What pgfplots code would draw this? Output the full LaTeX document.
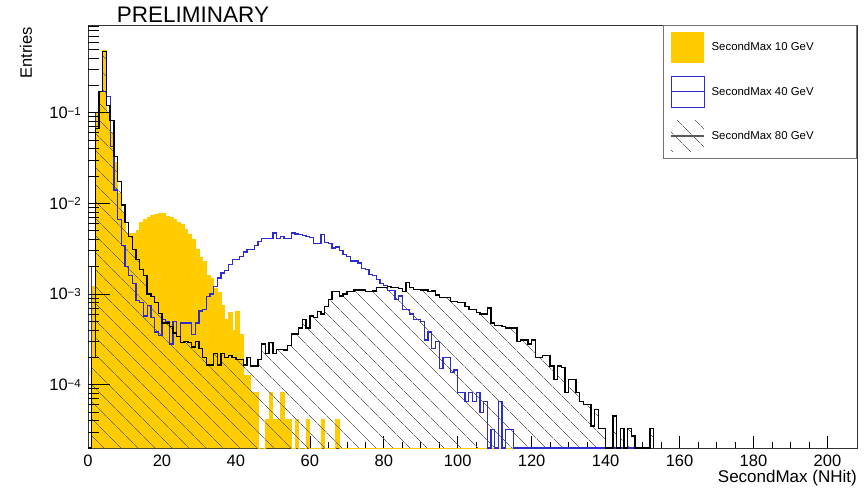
\documentclass[border=0pt]{standalone}
\usepackage{fontspec}
\setmainfont{Liberation Sans}
\usepackage{pgfplots}
\pgfplotsset{compat=1.18}
\usepackage{pgfplotstable}
\usetikzlibrary{patterns.meta}
\definecolor{rootyellow}{RGB}{255,204,0}
\definecolor{rootblue}{RGB}{45,45,205}

\pgfplotstableread{
x y
0 2e-5
1 1.2e-3
2 0.10
3 0.17
4 0.48
5 0.10
6 0.06
7 0.028
8 0.013
9 0.008
10 0.0047
11 0.0046
12 0.0047
13 0.0050
14 0.0062
15 0.0066
16 0.0070
17 0.0073
18 0.0075
19 0.0078
20 0.0078
21 0.0072
22 0.0070
23 0.0066
24 0.0062
25 0.0058
26 0.0051
27 0.0045
28 0.0040
29 0.0031
30 0.0025
31 0.0023
32 0.0016
33 0.0015
34 0.00115
35 0.00105
36 7.5e-4
37 5.2e-4
38 6.3e-4
39 4.0e-4
40 6.5e-4
41 3.6e-4
42 1.25e-4
43 1.25e-4
44 8.2e-5
45 8.2e-5
46 2e-5
47 2e-5
48 4.1e-5
49 8.2e-5
50 4.1e-5
51 4.1e-5
52 8.2e-5
53 4.1e-5
54 4.1e-5
55 2e-5
56 4.1e-5
57 2e-5
58 2e-5
59 4.1e-5
60 2e-5
63 4.1e-5
64 2e-5
67 4.1e-5
68 2e-5
115 2e-5
}\tenGeV

\pgfplotstableread{
x y
0 2e-5
1 0.002
2 0.10
3 0.17
4 0.17
5 0.15
6 0.042
7 0.014
8 0.0066
9 0.0034
10 0.0020
11 0.0016
12 0.0013
13 8.5e-4
14 8.0e-4
15 5.7e-4
16 7.5e-4
17 5.5e-4
18 3.8e-4
19 3.5e-4
20 5.2e-4
21 5.0e-4
22 2.8e-4
23 5.0e-4
24 3.4e-4
25 4.8e-4
26 4.8e-4
27 4.8e-4
28 3.6e-4
29 4.8e-4
30 6.5e-4
31 6.7e-4
32 9.4e-4
33 1.0e-3
34 1.2e-3
35 1.5e-3
36 1.7e-3
37 1.8e-3
38 2.1e-3
39 2.4e-3
40 2.4e-3
41 2.6e-3
42 2.9e-3
43 3.1e-3
44 3.1e-3
45 3.4e-3
46 3.8e-3
47 4.1e-3
48 4.1e-3
49 4.1e-3
50 4.7e-3
51 4.1e-3
52 4.3e-3
53 4.1e-3
54 4.1e-3
55 4.7e-3
56 4.6e-3
57 4.5e-3
58 4.4e-3
59 4.3e-3
60 4.2e-3
61 3.6e-3
62 3.6e-3
63 4.5e-3
64 3.7e-3
65 3.6e-3
66 3.2e-3
67 3.3e-3
68 3.0e-3
69 2.7e-3
70 2.6e-3
71 2.3e-3
72 2.3e-3
73 2.2e-3
74 1.9e-3
75 1.85e-3
76 1.63e-3
77 1.6e-3
78 1.45e-3
79 1.3e-3
80 1.25e-3
81 1.1e-3
82 1.1e-3
83 8.7e-4
84 9.5e-4
85 6.7e-4
86 6.7e-4
87 6.0e-4
88 5.2e-4
89 5.2e-4
90 5.0e-4
91 3.1e-4
92 3.8e-4
93 2.5e-4
94 3.0e-4
95 1.5e-4
96 2.0e-4
97 2.0e-4
98 1.36e-4
99 1.45e-4
100 8.2e-5
101 8.2e-5
102 6.5e-5
103 8.2e-5
104 6.5e-5
105 8.2e-5
106 4.9e-5
107 6.5e-5
108 2e-5
109 3.2e-5
110 2e-5
111 6.5e-5
112 2e-5
113 3.2e-5
114 3.2e-5
115 2e-5
152 2e-5
}\fortyGeV

\pgfplotstableread{
x y
0 2e-5
1 2e-4
2 0.067
3 0.17
4 0.47
5 0.12
6 0.082
7 0.033
8 0.0174
9 0.0096
10 0.0061
11 0.0043
12 0.0031
13 0.0024
14 0.00185
15 0.0016
16 0.0010
17 9.4e-4
18 8.0e-4
19 6.1e-4
20 4.8e-4
21 4.8e-4
22 4.4e-4
23 3.7e-4
24 3.4e-4
25 2.9e-4
26 3.0e-4
27 2.9e-4
28 2.6e-4
29 3.0e-4
30 2.5e-4
31 2.0e-4
32 1.65e-4
33 1.65e-4
34 2.2e-4
35 1.65e-4
36 2.2e-4
37 2.0e-4
38 2.1e-4
39 2.0e-4
40 1.9e-4
41 1.9e-4
42 1.65e-4
43 2.0e-4
44 1.6e-4
45 1.6e-4
46 1.9e-4
47 2.8e-4
48 2.2e-4
49 2.9e-4
50 2.2e-4
51 2.45e-4
52 2.45e-4
53 2.4e-4
54 2.7e-4
55 3.6e-4
56 3.6e-4
57 4.2e-4
58 5.2e-4
59 4.2e-4
60 5.7e-4
61 5.5e-4
62 6.4e-4
63 6.0e-4
64 7.3e-4
65 8.7e-4
66 1.06e-3
67 1.06e-3
68 9.5e-4
69 1.0e-3
70 1.06e-3
71 1.06e-3
72 1.1e-3
73 1.1e-3
74 1.1e-3
75 1.06e-3
76 1.06e-3
77 1.08e-3
78 1.18e-3
79 1.18e-3
80 1.18e-3
81 1.2e-3
82 1.18e-3
83 1.18e-3
84 1.15e-3
85 1.06e-3
86 1.33e-3
87 1.18e-3
88 1.12e-3
89 1.12e-3
90 1.1e-3
91 1.1e-3
92 1.06e-3
93 1.08e-3
94 9.7e-4
95 9.1e-4
96 9.1e-4
97 9.1e-4
98 8.3e-4
99 8.3e-4
100 8.0e-4
101 8.0e-4
102 7.3e-4
103 6.7e-4
104 6.7e-4
105 6.2e-4
106 6.0e-4
107 6.0e-4
108 7.0e-4
109 4.8e-4
110 4.5e-4
111 4.5e-4
112 4.4e-4
113 4.2e-4
114 4.2e-4
115 4.2e-4
116 3.0e-4
117 3.1e-4
118 3.1e-4
119 2.8e-4
120 3.1e-4
121 2.0e-4
122 2.0e-4
123 2.1e-4
124 2.1e-4
125 1.6e-4
126 1.14e-4
127 1.6e-4
128 1.55e-4
129 8.2e-5
130 1.14e-4
131 1.14e-4
132 8.2e-5
133 6.5e-5
134 6.0e-5
135 6.0e-5
136 3.5e-5
137 5.3e-5
138 3.3e-5
139 3.3e-5
140 2e-5
142 4.5e-5
143 2e-5
144 3.3e-5
145 2e-5
146 3.3e-5
147 2.7e-5
148 2e-5
152 3.3e-5
153 2e-5
}\eightyGeV

\begin{document}
\begin{tikzpicture}
\useasboundingbox (-88pt,-41pt) rectangle (776pt,448pt);
\begin{axis}[
  at={(0pt,0pt)}, anchor=south west,
  scale only axis, width=769pt, height=423pt,
  xmin=0, xmax=208, ymode=log, ymin=2e-5, ymax=0.925,
  axis line style={black!80, line width=0.8pt},
  tick pos=left, tick align=inside,
  xtick={0,20,...,200}, minor x tick num=3,
  major tick length=12pt, minor tick length=6pt,
  tick style={black, line width=0.6pt},
  ytick=\empty,
  /pgf/number format/assume math mode=true,
  xticklabel style={anchor=base, yshift=-18.7pt, inner sep=0pt, font=\fontsize{16.5}{18}\selectfont},
  legend style={at={(1,1)}, anchor=north east, draw=black!55, line width=0.8pt, fill=white,
    inner xsep=7pt, inner ysep=6.5pt, row sep=13pt,
    font=\fontsize{11.4}{13}\selectfont, nodes={inner sep=0pt},
    /tikz/every odd column/.append style={column sep=7pt}},
  legend cell align=left,
]
\addplot[const plot, fill=rootyellow, draw=rootyellow, line width=0.8pt,
  legend image code/.code={\path[draw=none, fill=rootyellow] (0pt,-15.5pt) rectangle (33pt,15.5pt);}]
  table[x=x, y=y] {\tenGeV};
\addlegendentry{\makebox[138pt][l]{SecondMax 10 GeV}}
\addplot[const plot, draw=none, pattern={Lines[angle=-45,distance=13pt,line width=0.6pt]}, pattern color=black!60, forget plot]
  table[x=x, y=y] {\eightyGeV};
\addplot[const plot, draw=rootblue, line width=1.3pt,
  legend image code/.code={\path[draw=rootblue, line width=0.6pt, fill=none] (0pt,-15.5pt) rectangle (33pt,15.5pt);
    \path[draw=rootblue, line width=1.2pt] (0pt,0pt) -- (33pt,0pt);}]
  table[x=x, y=y] {\fortyGeV};
\addlegendentry{\makebox[138pt][l]{SecondMax 40 GeV}}
\addplot[const plot, draw=black, line width=1.4pt,
  legend image code/.code={\path[draw=none, pattern={Lines[angle=-45,distance=13pt,line width=0.6pt]}, pattern color=black!60] (0pt,-15.5pt) rectangle (33pt,15.5pt);
    \path[draw=black!65, line width=1.3pt] (0pt,0pt) -- (33pt,0pt);}]
  table[x=x, y=y] {\eightyGeV};
\addlegendentry{\makebox[138pt][l]{SecondMax 80 GeV}}
\end{axis}
\begin{axis}[
  at={(0pt,0pt)}, anchor=south west,
  scale only axis, width=769pt, height=423pt,
  xmin=0, xmax=208, ymode=log, ymin=2e-5, ymax=0.925,
  axis line style={draw=none},
  tick pos=left, tick align=inside,
  xtick=\empty,
  ytick={1e-4,1e-3,1e-2,1e-1},
  yticklabels={10\raisebox{3.4pt}{\fontsize{11.5}{12}\selectfont −4},10\raisebox{3.4pt}{\fontsize{11.5}{12}\selectfont −3},10\raisebox{3.4pt}{\fontsize{11.5}{12}\selectfont −2},10\raisebox{3.4pt}{\fontsize{11.5}{12}\selectfont −1}},
  minor ytick={3e-5,4e-5,5e-5,6e-5,7e-5,8e-5,9e-5,2e-4,3e-4,4e-4,5e-4,6e-4,7e-4,8e-4,9e-4,2e-3,3e-3,4e-3,5e-3,6e-3,7e-3,8e-3,9e-3,2e-2,3e-2,4e-2,5e-2,6e-2,7e-2,8e-2,9e-2,0.2,0.3,0.4,0.5,0.6,0.7,0.8,0.9},
  major tick length=22pt, minor tick length=11pt,
  tick style={black, line width=0.6pt},
  yticklabel style={anchor=base east, inner sep=0pt, xshift=-7pt, yshift=-5.9pt, font=\fontsize{16.5}{18}\selectfont},
]
\end{axis}
\node[anchor=base west, inner sep=0pt, font=\fontsize{22.5}{26}\selectfont] at (28.7pt,425.3pt) {PRELIMINARY};
\node[rotate=90, anchor=base east, inner sep=0pt, font=\fontsize{16.5}{19}\selectfont] at (-56pt,421pt) {Entries};
\node[anchor=base east, inner sep=0pt, font=\fontsize{17}{20}\selectfont] at (769pt,-35pt) {SecondMax (NHit)};
\end{tikzpicture}
\end{document}
